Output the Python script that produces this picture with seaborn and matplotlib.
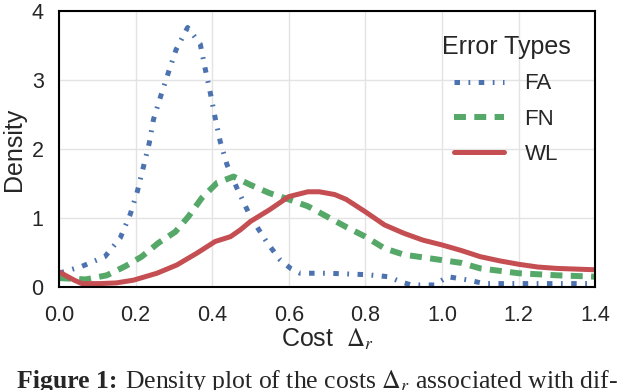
import matplotlib
matplotlib.use("Agg")
import matplotlib.pyplot as plt
import seaborn as sns

# density curves (x = cost, y = density)
fa_x = [0.00, 0.03, 0.06, 0.09, 0.12, 0.16, 0.186, 0.205, 0.221, 0.236, 0.247, 0.266, 0.286,
        0.306, 0.336, 0.369, 0.382, 0.395, 0.408, 0.421, 0.439, 0.465, 0.50, 0.544, 0.578,
        0.605, 0.63, 0.70, 0.80, 0.86, 0.89, 0.92, 0.98, 1.015, 1.07, 1.11, 1.20, 1.30, 1.40]
fa_y = [0.20, 0.25, 0.30, 0.37, 0.44, 0.71, 1.05, 1.39, 1.75, 2.09, 2.43, 2.77, 3.11,
        3.44, 3.76, 3.52, 3.16, 2.82, 2.45, 2.11, 1.77, 1.43, 1.02, 0.64, 0.39,
        0.27, 0.20, 0.20, 0.18, 0.15, 0.08, 0.03, 0.03, 0.15, 0.10, 0.05, 0.05, 0.05, 0.05]

fn_x = [0.00, 0.07, 0.125, 0.173, 0.216, 0.26, 0.304, 0.338, 0.373, 0.413, 0.456, 0.50, 0.55,
        0.60, 0.65, 0.70, 0.75, 0.80, 0.85, 0.90, 1.00, 1.05, 1.10, 1.20, 1.30, 1.40]
fn_y = [0.13, 0.11, 0.17, 0.30, 0.44, 0.64, 0.80, 1.02, 1.29, 1.51, 1.60, 1.48, 1.36,
        1.27, 1.17, 1.02, 0.87, 0.73, 0.56, 0.47, 0.39, 0.35, 0.27, 0.20, 0.17, 0.15]

wl_x = [0.00, 0.04, 0.06, 0.107, 0.15, 0.195, 0.256, 0.308, 0.36, 0.408, 0.448, 0.474, 0.50,
        0.55, 0.60, 0.65, 0.68, 0.72, 0.75, 0.80, 0.85, 0.90, 0.95, 1.00, 1.05, 1.10, 1.15,
        1.20, 1.25, 1.30, 1.40]
wl_y = [0.22, 0.10, 0.05, 0.05, 0.06, 0.10, 0.20, 0.32, 0.49, 0.66, 0.73, 0.83, 0.95,
        1.12, 1.31, 1.38, 1.38, 1.34, 1.27, 1.09, 0.90, 0.78, 0.68, 0.61, 0.53, 0.44, 0.38,
        0.33, 0.29, 0.27, 0.25]

x_ticks = [0.0, 0.2, 0.4, 0.6, 0.8, 1.0, 1.2, 1.4]
y_ticks = [0, 1, 2, 3, 4]

sns.set_theme(style="whitegrid")
plt.rcParams["font.family"] = ["Liberation Sans", "DejaVu Sans"]
plt.rcParams["mathtext.fontset"] = "stix"
plt.rcParams["axes.edgecolor"] = "black"
plt.rcParams["grid.color"] = "#e3e3e3"

blue, green, red = "#4C72B0", "#55A868", "#C44E52"

fig = plt.figure(figsize=(6.2, 3.9), dpi=100)
ax = fig.add_axes([0.095, 0.264, 0.865, 0.708])

sns.lineplot(x=fa_x, y=fa_y, ax=ax, color=blue, lw=3.6, label="FA",
             linestyle=(0, (1.1, 1.7, 0.35, 1.7)), dash_capstyle="butt")
sns.lineplot(x=fn_x, y=fn_y, ax=ax, color=green, lw=4.3, label="FN",
             linestyle=(0, (2.0, 1.4)), dash_capstyle="butt")
sns.lineplot(x=wl_x, y=wl_y, ax=ax, color=red, lw=3.6, label="WL")

ax.set_xlim(0, 1.4)
ax.set_ylim(0, 4)
ax.set_xticks(x_ticks)
ax.set_yticks(y_ticks)
ax.set_xticklabels([f"{t:.1f}" for t in x_ticks])
ax.tick_params(axis="x", labelsize=15.5, colors="#262626", pad=7)
ax.tick_params(axis="y", labelsize=15.5, colors="#262626", pad=5)
for s in ax.spines.values():
    s.set_linewidth(1.5)
ax.set_xlabel(r"Cost  $\Delta_r$", fontsize=18, color="#262626")
ax.set_ylabel("Density", fontsize=18, color="#262626")
ax.xaxis.set_label_coords(0.5, -0.145)
ax.yaxis.set_label_coords(-0.062, 0.5)

leg = ax.legend(title="Error Types", loc="upper center", frameon=False,
                fontsize=16, title_fontsize=18, handlelength=2.25, handletextpad=0.9,
                labelspacing=0.65, borderpad=0, borderaxespad=0,
                bbox_to_anchor=(0.834, 0.913))
leg.get_title().set_color("#262626")
for t in leg.get_texts():
    t.set_color("#262626")
for line in leg.get_lines():
    line.set_dash_capstyle("butt")

# caption, cut off at the bottom edge like the reference
serif = ["Liberation Serif", "DejaVu Serif"]
t1 = fig.text(0.027, 0.005, "Figure 1:", fontsize=18.5, family=serif, weight="bold",
              va="baseline", ha="left")
fig.canvas.draw()
bb = t1.get_window_extent(renderer=fig.canvas.get_renderer())
fig.text(bb.x1 / fig.bbox.width + 0.012, 0.005,
         r"Density plot of the costs $\Delta_r$ associated with dif-",
         fontsize=18.5, family=serif, va="baseline", ha="left")

fig.savefig("out.png", dpi=100)
